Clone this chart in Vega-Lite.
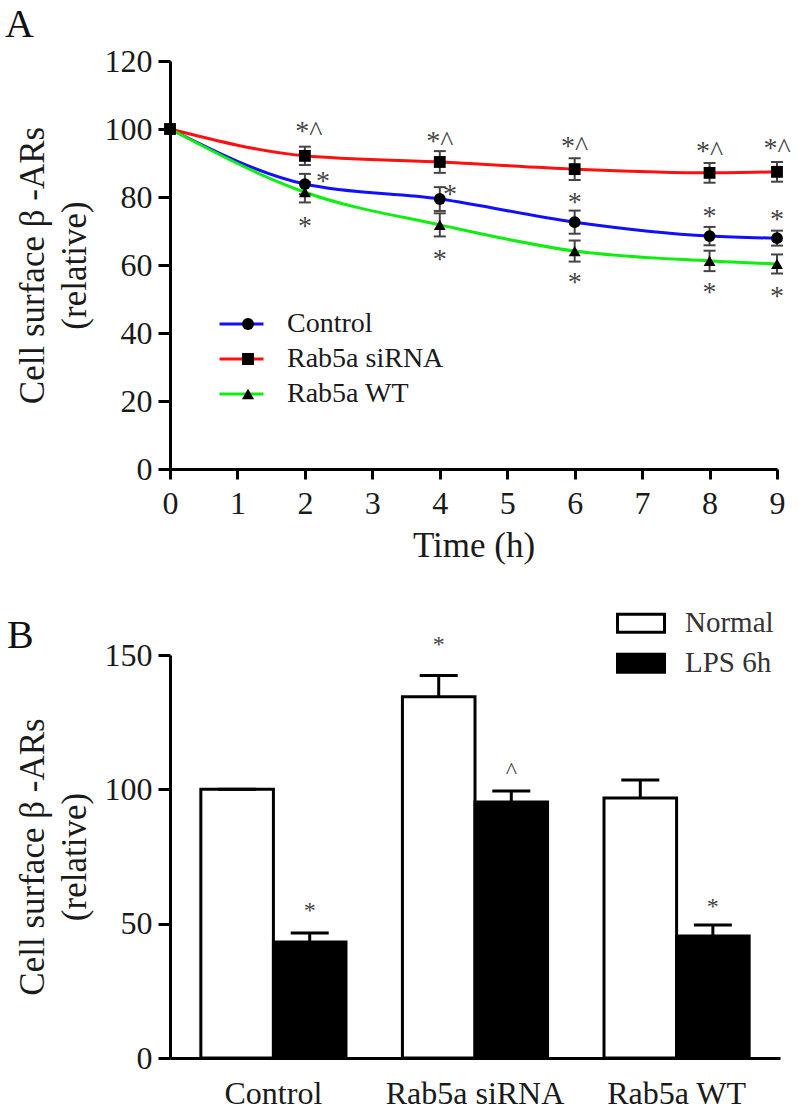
{
  "$schema": "https://vega.github.io/schema/vega-lite/v6.json",
  "background": "white",
  "padding": {"left": 5, "top": 5, "right": 10, "bottom": 5},
  "spacing": 40,
  "resolve": {"legend": {"color": "independent", "shape": "independent", "fill": "independent"}, "scale": {"color": "independent", "shape": "independent", "fill": "independent"}},
  "config": {
    "font": "Liberation Serif",
    "view": {"stroke": null},
    "axis": {
      "grid": false,
      "domainColor": "black",
      "domainWidth": 3,
      "tickColor": "black",
      "tickWidth": 3,
      "labelFont": "Liberation Serif",
      "titleFont": "Liberation Serif",
      "labelColor": "#1a1a1a",
      "titleColor": "#1a1a1a",
      "titleFontWeight": "normal",
      "labelFontSize": 32,
      "titleFontSize": 35
    },
    "legend": {"labelFont": "Liberation Serif"},
    "title": {"font": "Liberation Serif", "fontWeight": "normal", "color": "#111"}
  },
  "datasets": {
    "lines": [
      {"series": "Control", "time": 0, "value": 100, "lo": 100, "hi": 100},
      {"series": "Control", "time": 2, "value": 83.8, "lo": 80.8, "hi": 86.8},
      {"series": "Control", "time": 4, "value": 79.4, "lo": 75.9, "hi": 82.9},
      {"series": "Control", "time": 6, "value": 72.6, "lo": 69.2, "hi": 76.0},
      {"series": "Control", "time": 8, "value": 68.5, "lo": 65.8, "hi": 71.2},
      {"series": "Control", "time": 9, "value": 67.9, "lo": 65.7, "hi": 70.1},
      {"series": "Rab5a siRNA", "time": 0, "value": 100, "lo": 100, "hi": 100},
      {"series": "Rab5a siRNA", "time": 2, "value": 92.1, "lo": 89.4, "hi": 94.8},
      {"series": "Rab5a siRNA", "time": 4, "value": 90.3, "lo": 87.1, "hi": 93.5},
      {"series": "Rab5a siRNA", "time": 6, "value": 88.2, "lo": 85.0, "hi": 91.4},
      {"series": "Rab5a siRNA", "time": 8, "value": 87.1, "lo": 84.2, "hi": 90.0},
      {"series": "Rab5a siRNA", "time": 9, "value": 87.4, "lo": 84.5, "hi": 90.3},
      {"series": "Rab5a WT", "time": 0, "value": 100, "lo": 100, "hi": 100},
      {"series": "Rab5a WT", "time": 2, "value": 81.4, "lo": 78.4, "hi": 84.4},
      {"series": "Rab5a WT", "time": 4, "value": 71.8, "lo": 68.4, "hi": 75.2},
      {"series": "Rab5a WT", "time": 6, "value": 64.1, "lo": 61.0, "hi": 67.2},
      {"series": "Rab5a WT", "time": 8, "value": 61.2, "lo": 58.2, "hi": 64.2},
      {"series": "Rab5a WT", "time": 9, "value": 60.3, "lo": 57.5, "hi": 63.1}
    ],
    "annotA": [
      {"time": 2.06, "value": 100.9, "label": "*^"},
      {"time": 4.0, "value": 98.0, "label": "*^"},
      {"time": 6.0, "value": 96.5, "label": "*^"},
      {"time": 8.0, "value": 95.0, "label": "*^"},
      {"time": 9.0, "value": 95.9, "label": "*^"},
      {"time": 2.27, "value": 86.2, "label": "*"},
      {"time": 4.15, "value": 82.4, "label": "*"},
      {"time": 6.0, "value": 80.0, "label": "*"},
      {"time": 8.0, "value": 76.0, "label": "*"},
      {"time": 9.0, "value": 75.0, "label": "*"},
      {"time": 2.0, "value": 73.0, "label": "*"},
      {"time": 4.0, "value": 63.2, "label": "*"},
      {"time": 6.0, "value": 56.4, "label": "*"},
      {"time": 8.0, "value": 53.5, "label": "*"},
      {"time": 9.0, "value": 52.4, "label": "*"}
    ],
    "bars": [
      {"group": "Control", "condition": "Normal", "value": 100, "hi": 100},
      {"group": "Control", "condition": "LPS 6h", "value": 43.2, "hi": 46.5},
      {"group": "Rab5a siRNA", "condition": "Normal", "value": 134.5, "hi": 142.4},
      {"group": "Rab5a siRNA", "condition": "LPS 6h", "value": 95.3, "hi": 99.4},
      {"group": "Rab5a WT", "condition": "Normal", "value": 96.8, "hi": 103.5},
      {"group": "Rab5a WT", "condition": "LPS 6h", "value": 45.4, "hi": 49.5}
    ],
    "annotB": [
      {"group": "Control", "condition": "LPS 6h", "value": 56.6, "label": "*"},
      {"group": "Rab5a siRNA", "condition": "Normal", "value": 155.5, "label": "*"},
      {"group": "Rab5a siRNA", "condition": "LPS 6h", "value": 108.7, "label": "^"},
      {"group": "Rab5a WT", "condition": "LPS 6h", "value": 58.0, "label": "*"}
    ]
  },
  "vconcat": [
    {
      "width": 607,
      "height": 408,
      "title": {"text": "A", "anchor": "start", "frame": "group", "dx": -165, "fontSize": 40, "baseline": "alphabetic", "offset": -32},
      "layer": [
        {
          "data": {"name": "lines"},
          "mark": {"type": "line", "strokeWidth": 3, "interpolate": "monotone"},
          "encoding": {
            "x": {"field": "time", "type": "quantitative", "scale": {"domain": [0, 9], "nice": false},
              "axis": {"values": [0, 1, 2, 3, 4, 5, 6, 7, 8, 9], "format": "d", "tickSize": 10, "labelPadding": 9, "title": "Time (h)", "titlePadding": 9, "labelFlush": false}},
            "y": {"field": "value", "type": "quantitative", "scale": {"domain": [0, 120], "nice": false},
              "axis": {"values": [0, 20, 40, 60, 80, 100, 120], "format": "d", "tickSize": 12, "labelPadding": 6, "title": ["Cell surface β -ARs", "(relative)"], "titleLineHeight": 42, "titlePadding": 12}},
            "color": {"field": "series", "type": "nominal",
              "scale": {"domain": ["Control", "Rab5a siRNA", "Rab5a WT"], "range": ["#1010ff", "#ff1010", "#10ee10"]},
              "legend": {"orient": "none", "legendX": 48, "legendY": 245.5, "title": null, "symbolType": "stroke", "symbolSize": 1936, "symbolStrokeWidth": 3, "labelFontSize": 28, "labelOffset": 22, "clipHeight": 35, "rowPadding": 0, "labelColor": "#1a1a1a"}}
          }
        },
        {
          "data": {"name": "lines"},
          "mark": {"type": "rule", "color": "#444", "strokeWidth": 2},
          "encoding": {
            "x": {"field": "time", "type": "quantitative"},
            "y": {"field": "lo", "type": "quantitative"},
            "y2": {"field": "hi"}
          }
        },
        {
          "data": {"name": "lines"},
          "mark": {"type": "point", "shape": "M-1,0H1", "filled": false, "stroke": "#444", "strokeWidth": 2, "size": 144, "opacity": 1},
          "encoding": {
            "x": {"field": "time", "type": "quantitative"},
            "y": {"field": "lo", "type": "quantitative"}
          }
        },
        {
          "data": {"name": "lines"},
          "mark": {"type": "point", "shape": "M-1,0H1", "filled": false, "stroke": "#444", "strokeWidth": 2, "size": 144, "opacity": 1},
          "encoding": {
            "x": {"field": "time", "type": "quantitative"},
            "y": {"field": "hi", "type": "quantitative"}
          }
        },
        {
          "data": {"name": "lines"},
          "mark": {"type": "point", "filled": true, "color": "black", "opacity": 1, "size": 140},
          "encoding": {
            "x": {"field": "time", "type": "quantitative"},
            "y": {"field": "value", "type": "quantitative"},
            "shape": {"field": "series", "type": "nominal", "sort": ["Control", "Rab5a siRNA", "Rab5a WT"],
              "scale": {"range": ["circle", "square", "triangle-up"]},
              "legend": {"orient": "none", "legendX": 64, "legendY": 245.5, "title": null, "symbolSize": 144, "symbolFillColor": "black", "symbolStrokeColor": "black", "labelFontSize": 28, "labelExpr": "''", "clipHeight": 35, "rowPadding": 0}}
          }
        },
        {
          "data": {"name": "annotA"},
          "mark": {"type": "text", "fontSize": 28, "color": "#444", "baseline": "middle", "align": "center", "dy": 6},
          "encoding": {
            "x": {"field": "time", "type": "quantitative"},
            "y": {"field": "value", "type": "quantitative"},
            "text": {"field": "label"}
          }
        }
      ]
    },
    {
      "width": 610,
      "height": 403,
      "title": {"text": "B", "anchor": "start", "frame": "group", "dx": -163, "fontSize": 40, "baseline": "alphabetic", "offset": -84},
      "layer": [
        {
          "data": {"name": "bars"},
          "mark": {"type": "bar", "stroke": "black", "strokeWidth": 3},
          "encoding": {
            "x": {"field": "group", "type": "nominal",
              "scale": {"domain": ["Control", "Rab5a siRNA", "Rab5a WT"], "paddingInner": 0.28, "paddingOuter": 0.153},
              "axis": {"labelAngle": 0, "ticks": false, "labelPadding": 20, "title": null, "labelFontSize": 32}},
            "xOffset": {"field": "condition", "type": "nominal", "scale": {"domain": ["Normal", "LPS 6h"], "paddingInner": 0, "paddingOuter": 0}},
            "y": {"field": "value", "type": "quantitative", "scale": {"domain": [0, 150], "nice": false},
              "axis": {"values": [0, 50, 100, 150], "format": "d", "tickSize": 12, "labelPadding": 6, "title": ["Cell surface β -ARs", "(relative)"], "titleLineHeight": 42, "titlePadding": 12}},
            "fill": {"field": "condition", "type": "nominal",
              "scale": {"domain": ["Normal", "LPS 6h"], "range": ["white", "black"]},
              "legend": {"orient": "none", "legendX": 446, "legendY": -51.5, "title": null, "symbolType": "M-1,-0.383H1V0.383H-1Z", "symbolSize": 2209, "symbolStrokeColor": "black", "symbolStrokeWidth": 3, "labelFontSize": 29, "labelColor": "#333", "labelOffset": 19, "clipHeight": 39.5, "rowPadding": 0}}
          }
        },
        {
          "data": {"name": "bars"},
          "mark": {"type": "rule", "color": "black", "strokeWidth": 3},
          "encoding": {
            "x": {"field": "group", "type": "nominal"},
            "xOffset": {"field": "condition", "type": "nominal"},
            "y": {"field": "value", "type": "quantitative"},
            "y2": {"field": "hi"}
          }
        },
        {
          "data": {"name": "bars"},
          "mark": {"type": "tick", "color": "black", "thickness": 3, "size": 38, "opacity": 1},
          "encoding": {
            "x": {"field": "group", "type": "nominal"},
            "xOffset": {"field": "condition", "type": "nominal"},
            "y": {"field": "hi", "type": "quantitative"}
          }
        },
        {
          "data": {"name": "annotB"},
          "mark": {"type": "text", "fontSize": 24, "color": "#444", "baseline": "middle", "align": "center", "dy": 5},
          "encoding": {
            "x": {"field": "group", "type": "nominal"},
            "xOffset": {"field": "condition", "type": "nominal"},
            "y": {"field": "value", "type": "quantitative"},
            "text": {"field": "label"}
          }
        }
      ]
    }
  ]
}
